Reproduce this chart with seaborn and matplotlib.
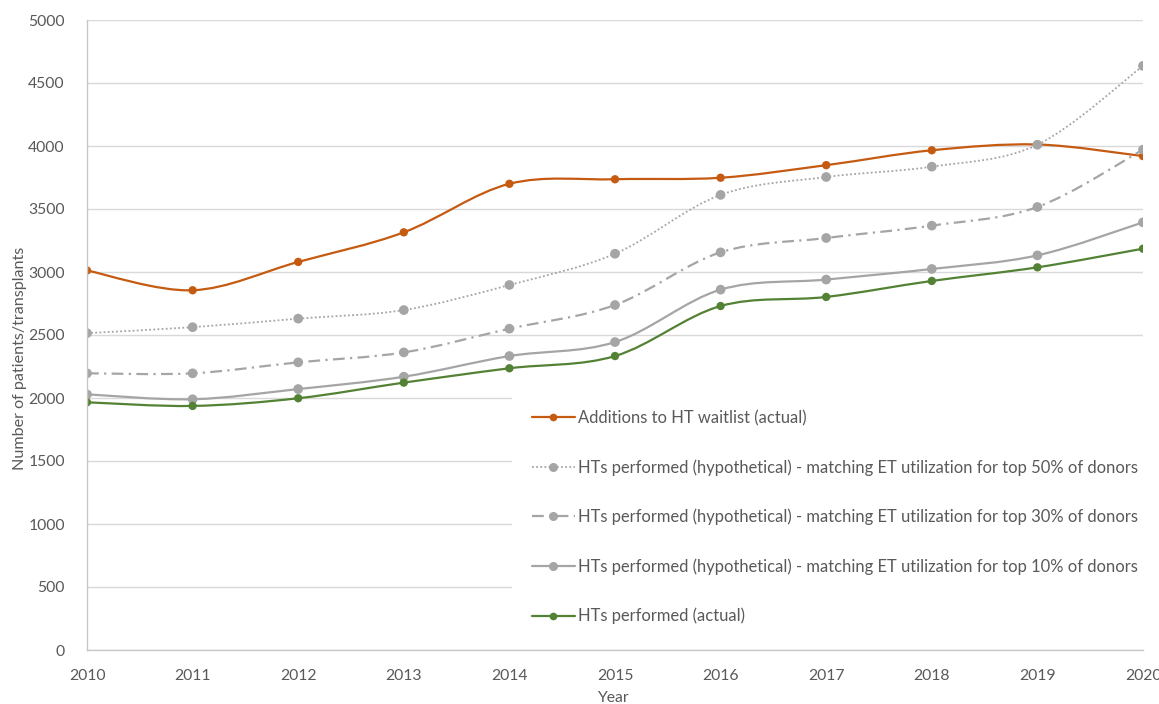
import matplotlib
matplotlib.use("Agg")
import matplotlib.pyplot as plt
from matplotlib.path import Path
from matplotlib.patches import PathPatch
from matplotlib.lines import Line2D
import numpy as np
import pandas as pd
import seaborn as sns

# ---- data -------------------------------------------------------------
years = [2010, 2011, 2012, 2013, 2014, 2015, 2016, 2017, 2018, 2019, 2020]
waitlist_additions = [3012, 2855, 3080, 3315, 3700, 3736, 3748, 3848, 3966, 4012, 3920]
hyp_top50 = [2515, 2562, 2630, 2698, 2897, 3145, 3612, 3754, 3836, 4010, 4636]
hyp_top30 = [2196, 2196, 2283, 2362, 2550, 2738, 3156, 3270, 3368, 3516, 3971]
hyp_top10 = [2029, 1990, 2071, 2169, 2333, 2444, 2860, 2940, 3024, 3132, 3394]
ht_actual = [1966, 1937, 1998, 2122, 2236, 2333, 2730, 2802, 2929, 3037, 3185]

series_labels = [
    "Additions to HT waitlist (actual)",
    "HTs performed (hypothetical) - matching ET utilization for top 50% of donors",
    "HTs performed (hypothetical) - matching ET utilization for top 30% of donors",
    "HTs performed (hypothetical) - matching ET utilization for top 10% of donors",
    "HTs performed (actual)",
]
y_ticks = list(range(0, 5001, 500))

# ---- styling ----------------------------------------------------------
sns.set_theme(style="white")
plt.rcParams["font.family"] = ["Lato", "DejaVu Sans"]
text_color = "#595959"
grid_color = "#d9d9d9"

ORANGE = "#C55A11"
GRAY = "#A5A5A5"
GREEN = "#548235"

styles = [
    dict(color=ORANGE, lw=1.6, dashes=None, ms=6.0),
    dict(color=GRAY, lw=1.3, dashes=(1.0, 1.3), ms=7.0),
    dict(color=GRAY, lw=1.6, dashes=(5.3, 2.4, 1.0, 2.4), ms=7.0),
    dict(color=GRAY, lw=1.6, dashes=None, ms=7.0),
    dict(color=GREEN, lw=1.6, dashes=None, ms=6.0),
]
all_series = [waitlist_additions, hyp_top50, hyp_top30, hyp_top10, ht_actual]

df = pd.concat(
    [pd.DataFrame({"Year": years, "Value": vals, "Series": lab})
     for lab, vals in zip(series_labels, all_series)],
    ignore_index=True,
)


def smooth_path(xs, ys, tension=1.0 / 6.0):
    """Cubic Bezier path through the points (Catmull-Rom style smoothing)."""
    pts = np.column_stack([xs, ys]).astype(float)
    n = len(pts)
    verts = [pts[0]]
    codes = [Path.MOVETO]
    for i in range(n - 1):
        p0 = pts[i - 1] if i > 0 else pts[i]
        p1 = pts[i]
        p2 = pts[i + 1]
        p3 = pts[i + 2] if i + 2 < n else pts[i + 1]
        c1 = p1 + (p2 - p0) * tension
        c2 = p2 - (p3 - p1) * tension
        verts.extend([c1, c2, p2])
        codes.extend([Path.CURVE4] * 3)
    return Path(verts, codes)


fig = plt.figure(figsize=(11.59, 7.04), dpi=100)
ax = fig.add_axes([87 / 1159, 1 - 650 / 704, (1143 - 87) / 1159, (650 - 20) / 704])

handles = []
for lab, st in zip(series_labels, styles):
    sub = df[df["Series"] == lab]
    patch = PathPatch(
        smooth_path(sub["Year"].values, sub["Value"].values),
        facecolor="none", edgecolor=st["color"], lw=st["lw"],
        capstyle="butt", joinstyle="round", zorder=3,
    )
    if st["dashes"] is not None:
        patch.set_linestyle((0, st["dashes"]))
    ax.add_patch(patch)
    sns.scatterplot(data=sub, x="Year", y="Value", ax=ax, color=st["color"],
                    s=st["ms"] ** 2, edgecolor="none", linewidth=0, zorder=4,
                    legend=False)
    h = Line2D([0], [0], color=st["color"], lw=st["lw"], marker="o",
               markersize=st["ms"] - 0.5, markeredgewidth=0,
               markerfacecolor=st["color"])
    if st["dashes"] is not None:
        h.set_dashes(st["dashes"])
    handles.append(h)

# ---- axes -------------------------------------------------------------
ax.set_xlim(years[0], years[-1])
ax.set_ylim(y_ticks[0], y_ticks[-1])
ax.set_xticks(years)
ax.set_xticklabels([str(y) for y in years])
ax.set_yticks(y_ticks)
ax.set_yticklabels([str(v) for v in y_ticks])
ax.tick_params(axis="both", length=0, labelsize=11.3, labelcolor=text_color)
ax.tick_params(axis="x", pad=14)
ax.tick_params(axis="y", pad=16)
ax.grid(axis="y", color=grid_color, lw=1.0, zorder=0)
ax.set_axisbelow(True)
for side in ["top", "right"]:
    ax.spines[side].set_visible(False)
for side in ["left", "bottom"]:
    ax.spines[side].set_color("#c8c8c8")
    ax.spines[side].set_linewidth(1.0)
    ax.spines[side].set_zorder(6)

ax.set_xlabel("Year", fontsize=11.3, color=text_color, va="center")
ax.xaxis.set_label_coords((613 - 87) / 1056, (650 - 698) / 630)
ax.set_ylabel("Number of patients/transplants", fontsize=11.6, color=text_color,
              va="center")
ax.yaxis.set_label_coords((20 - 87) / 1056, (650 - 358) / 630)

leg = ax.legend(
    handles, series_labels,
    loc="upper left", bbox_to_anchor=(512 / 1159, 1 - 390 / 704),
    bbox_transform=fig.transFigure,
    frameon=True, facecolor="white", edgecolor="none", framealpha=1.0,
    fontsize=11.9, labelspacing=2.0, handlelength=2.6, handletextpad=0.2,
    borderpad=1.2, borderaxespad=0,
)
for t in leg.get_texts():
    t.set_color(text_color)
leg.set_zorder(5)

fig.savefig("out.png", dpi=100, facecolor="white")
